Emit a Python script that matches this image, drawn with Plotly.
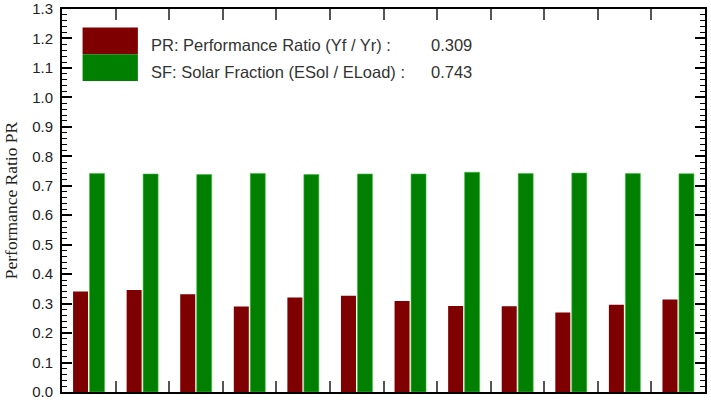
import plotly.graph_objects as go

months = list(range(1, 13))
pr_values = [0.341, 0.346, 0.332, 0.290, 0.321, 0.327, 0.309, 0.292, 0.291, 0.270, 0.296, 0.314]
sf_values = [0.742, 0.740, 0.738, 0.742, 0.738, 0.740, 0.740, 0.746, 0.742, 0.743, 0.742, 0.741]
y_ticks = [round(i * 0.1, 1) for i in range(14)]
y_tick_labels = [f"{v:.1f}" for v in y_ticks]
group_bounds = [m + 0.5 for m in months[:-1]]

legend_rows = [
    ("PR: Performance Ratio (Yf / Yr) :", "0.309", "#7f0000"),
    ("SF: Solar Fraction (ESol / ELoad) :", "0.743", "#007f00"),
]

RED = "#7f0000"
GREEN = "#007f00"

fig = go.Figure()
fig.add_trace(go.Bar(x=months, y=pr_values, name="PR", marker=dict(color=RED, line=dict(width=0))))
fig.add_trace(go.Bar(x=months, y=sf_values, name="SF", marker=dict(color=GREEN, line=dict(color="#3fbf3f", width=0.6))))

fig.update_layout(
    width=711, height=400,
    margin=dict(l=62, r=6, t=9, b=8, autoexpand=False),
    paper_bgcolor="white", plot_bgcolor="white",
    barmode="group", bargap=0.385, bargroupgap=0.09,
    showlegend=False,
    font=dict(family="Liberation Sans, Arial", color="#222"),
)

fig.update_xaxes(
    range=[0.5, 12.5], tickmode="array", tickvals=group_bounds, showticklabels=False,
    ticks="inside", ticklen=11, tickwidth=1.5, tickcolor="#555",
    showline=True, linecolor="black", linewidth=2, mirror="ticks",
    showgrid=False, zeroline=False,
)
fig.update_yaxes(
    range=[0, 1.3], tickmode="array", tickvals=y_ticks, ticktext=y_tick_labels,
    ticks="inside", ticklen=10, tickwidth=1.5, tickcolor="black",
    tickfont=dict(size=15, family="Liberation Sans, Arial", color="#222"),
    ticklabelstandoff=4, ticklabeloverflow="allow",
    minor=dict(dtick=0.02, ticks="inside", ticklen=5, tickwidth=1, tickcolor="black", showgrid=False),
    showline=True, linecolor="black", linewidth=2, mirror="ticks",
    showgrid=False, zeroline=False,
    title=dict(text="Performance Ratio PR", font=dict(family="Liberation Serif, Times New Roman", size=17.5, color="#222"), standoff=10),
)

# legend block
x0_sw, x1_sw = 0.032, 0.118
top = 0.952
row_h = 0.07
for i, (label, val, col) in enumerate(legend_rows):
    y1 = top - i * row_h
    y0 = y1 - row_h
    ty = (y0 + y1) / 2 - 0.011
    fig.add_shape(type="rect", xref="paper", yref="paper", x0=x0_sw, x1=x1_sw, y0=y0, y1=y1,
                  fillcolor=col, line=dict(width=0))
    fig.add_annotation(xref="paper", yref="paper", x=0.136, y=ty, text=label,
                       showarrow=False, xanchor="left", yanchor="middle",
                       font=dict(size=16.5, family="Liberation Sans, Arial", color="#333"))
    fig.add_annotation(xref="paper", yref="paper", x=0.571, y=ty, text=val,
                       showarrow=False, xanchor="left", yanchor="middle",
                       font=dict(size=16.5, family="Liberation Sans, Arial", color="#333"))

fig.write_html("out.html", config={"displayModeBar": False},
               post_script="document.body.style.margin='0';document.body.style.padding='0';")
